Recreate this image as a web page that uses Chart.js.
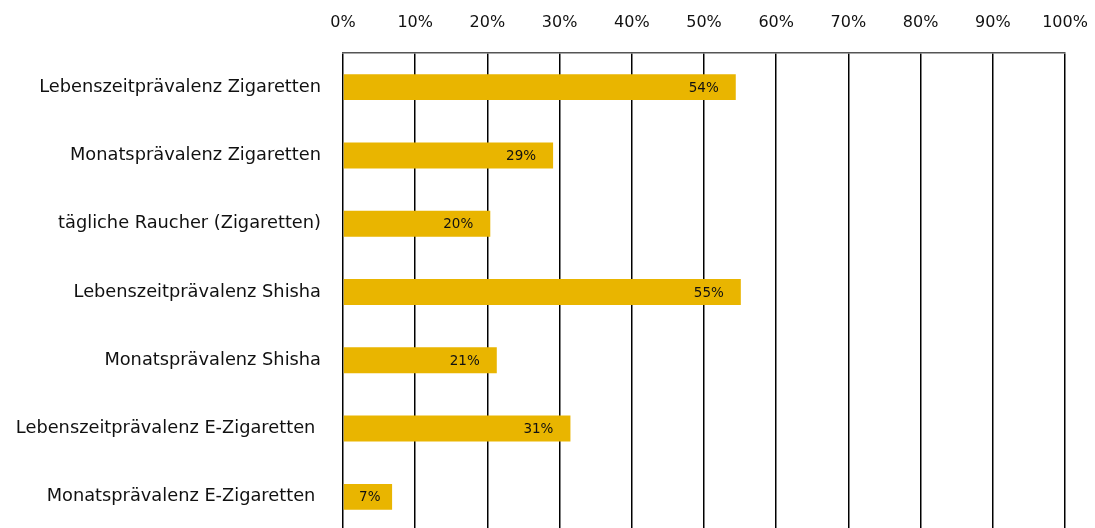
<!DOCTYPE html>
<html lang="de">
<head>
  <meta charset="UTF-8">
  <title>Tabakkonsum</title>
  <script src="https://cdn.jsdelivr.net/npm/chart.js"></script>
  <style>
    body {
      margin: 0;
      padding: 0;
      background: #fff;
      overflow: hidden;
    }
    canvas { display: block; }
  </style>
</head>
<body>
  <canvas id="barChart" width="1095" height="531"></canvas>

  <script>
    // data
    const categories = [
      'Lebenszeitprävalenz Zigaretten',
      'Monatsprävalenz Zigaretten',
      'tägliche Raucher (Zigaretten)',
      'Lebenszeitprävalenz Shisha',
      'Monatsprävalenz Shisha',
      'Lebenszeitprävalenz E-Zigaretten ',
      'Monatsprävalenz E-Zigaretten '
    ];
    const values = [54.4, 29.1, 20.4, 55.1, 21.3, 31.5, 6.8];
    const valueLabels = ['54%', '29%', '20%', '55%', '21%', '31%', '7%'];
    const xTicks = [0, 10, 20, 30, 40, 50, 60, 70, 80, 90, 100];

    // draws the value text inside the end of each bar
    const barLabels = {
      id: 'barLabels',
      afterDatasetsDraw(chart) {
        const ctx = chart.ctx;
        const meta = chart.getDatasetMeta(0);
        ctx.save();
        ctx.font = '13.5px "DejaVu Sans"';
        ctx.fillStyle = '#111';
        ctx.textAlign = 'center';
        ctx.textBaseline = 'middle';
        meta.data.forEach((bar, i) => {
          const cx = Math.max(bar.x - 32, bar.base + 26);
          ctx.fillText(valueLabels[i], cx, bar.y + 1);
        });
        ctx.restore();
      }
    };

    const ctx = document.getElementById('barChart').getContext('2d');
    new Chart(ctx, {
      type: 'bar',
      data: {
        labels: categories,
        datasets: [{
          data: values,
          backgroundColor: '#E9B500',
          barPercentage: 0.38,
          categoryPercentage: 1
        }]
      },
      plugins: [barLabels],
      options: {
        indexAxis: 'y',
        responsive: false,
        animation: false,
        layout: { padding: { left: 0, right: 30, top: 0, bottom: 0 } },
        plugins: {
          legend: { display: false },
          tooltip: { enabled: false }
        },
        scales: {
          x: {
            position: 'top',
            min: 0,
            max: 100,
            afterBuildTicks(scale) {
              scale.ticks = xTicks.map(v => ({ value: v }));
            },
            afterFit(scale) {
              scale.height = 53;
              scale.paddingLeft = 0;
              scale.paddingRight = 0;
            },
            ticks: {
              callback: v => v + '%',
              color: '#111',
              padding: 21,
              maxRotation: 0,
              font: { family: 'DejaVu Sans', size: 16 }
            },
            grid: {
              color: '#000',
              lineWidth: 1.5,
              drawTicks: false
            },
            border: { color: '#555', width: 1.5 }
          },
          y: {
            afterFit(scale) {
              scale.width = 343;
              scale.paddingTop = 0;
              scale.paddingBottom = 0;
            },
            ticks: {
              color: '#111',
              padding: 22,
              font: { family: 'DejaVu Sans', size: 17.8 }
            },
            grid: { display: false, drawTicks: false },
            border: { display: false }
          }
        }
      }
    });
  </script>
</body>
</html>
